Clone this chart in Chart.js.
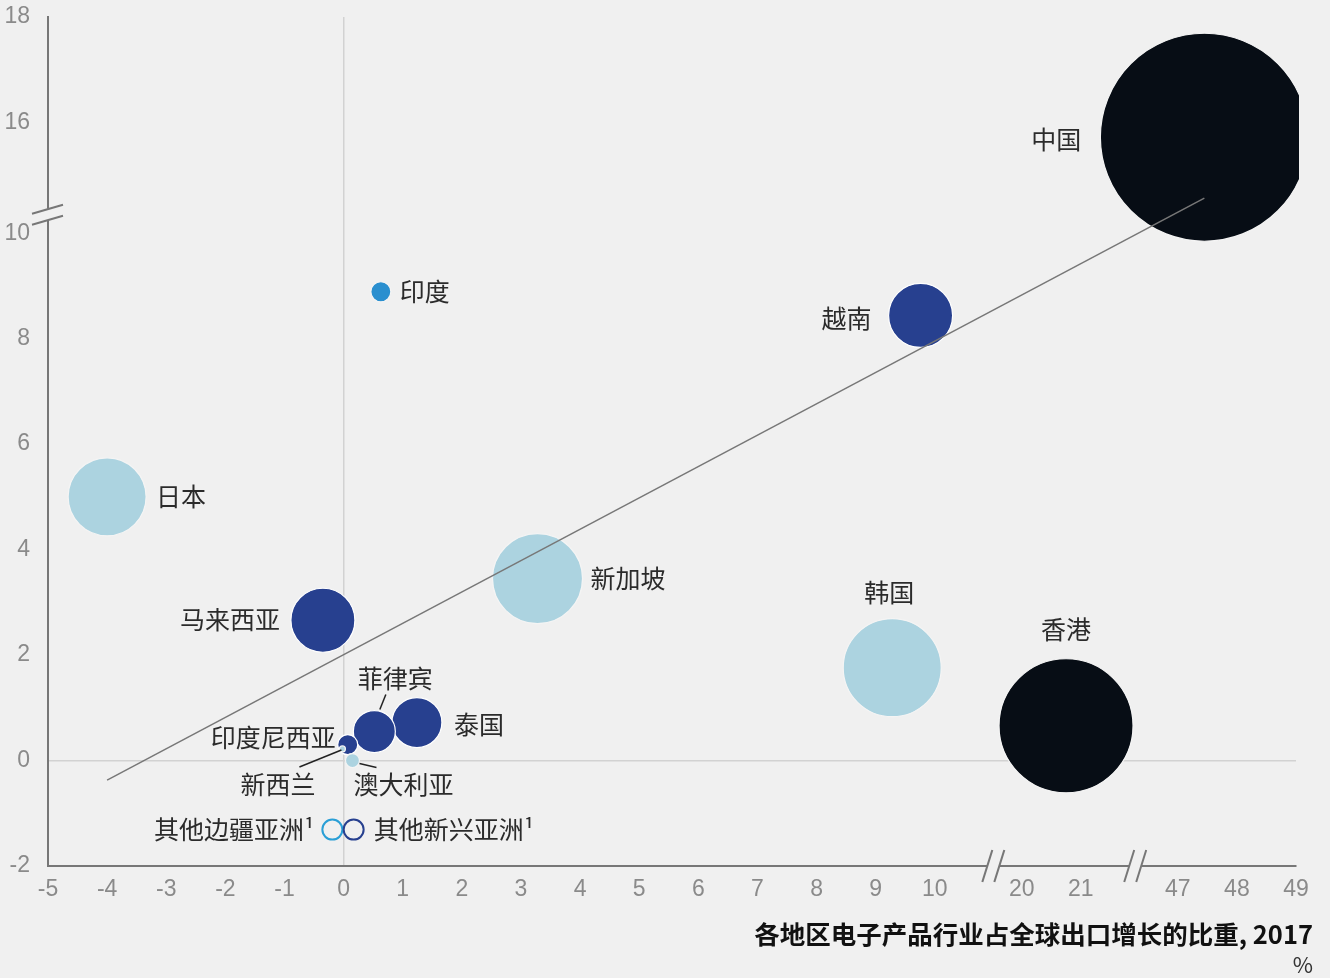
<!DOCTYPE html>
<html lang="zh">
<head>
<meta charset="utf-8">
<title>各地区电子产品行业占全球出口增长的比重</title>
<script src="https://cdn.jsdelivr.net/npm/chart.js@4/dist/chart.umd.min.js"></script>
<style>
  html, body { margin: 0; padding: 0; background: #f0f0f0; }
  canvas { display: block; }
</style>
</head>
<body>
<canvas id="chart" width="1330" height="978"></canvas>
<script>
'use strict';

// Data.
const countries = ['中国', '香港', '韩国', '新加坡', '日本', '越南', '马来西亚', '印度',
  '泰国', '菲律宾', '印度尼西亚', '新西兰', '澳大利亚', '其他边疆亚洲¹', '其他新兴亚洲¹'];
const xValues = [47.45, 20.75, 9.28, 3.28, -4.0, 9.76, -0.35, 0.63, 1.24, 0.52, 0.07, -0.02, 0.15, -0.19, 0.17];
const yValues = [15.2, 0.66, 1.76, 3.45, 5.0, 8.44, 2.66, 8.89, 0.72, 0.55, 0.30, 0.22, 0.0, -1.31, -1.31];
const bubbleSize = [104, 67, 49, 45, 39, 32, 32, 10, 25, 21, 10, 3, 7, 10, 10];
const groups = ['china', 'china', 'advanced', 'advanced', 'advanced', 'emerging', 'emerging', 'frontier',
  'emerging', 'emerging', 'emerging', 'advanced', 'advanced', 'frontierOther', 'emergingOther'];

// Trend line end points.
const trendX = [-4, 47.45];
const trendY = [-0.37, 11.9];

// Tick labels on the broken axes.
const xTickValues = [-5, -4, -3, -2, -1, 0, 1, 2, 3, 4, 5, 6, 7, 8, 9, 10, 20, 21, 47, 48, 49];
const yTickValues = [-2, 0, 2, 4, 6, 8, 10, 16, 18];

// Colours per group.
const fillColours = {
  china: '#070d15',
  advanced: '#acd3e0',
  emerging: '#27408f',
  frontier: '#2a8fcf',
  frontierOther: 'rgba(0,0,0,0)',
  emergingOther: 'rgba(0,0,0,0)',
};
const edgeColours = {
  china: '#f4f4f4',
  advanced: '#f4f4f4',
  emerging: '#ffffff',
  frontier: '#f4f4f4',
  frontierOther: '#2a9fd6',
  emergingOther: '#27408f',
};

// Label placement relative to each bubble: [dx, dy, align].
const labelPlacement = [
  [-148, 2, 'center'], [0, -96, 'center'], [-3, -75, 'center'], [53, 0, 'left'],
  [49, 0, 'left'], [-74, 3, 'center'], [-43, -1, 'right'], [19, 0, 'left'],
  [37, 2, 'left'], [21, -53, 'center'], [-12, -7, 'right'], [-27, 36, 'right'],
  [1, 24, 'left'], [-18, 0, 'right'], [20, 0, 'left'],
];
// Leader lines: [index, fromDx, fromDy, toDx, toDy].
const leaders = [
  [9, 5.5, -22, 11.5, -37],
  [11, -1, 1, -43, 18],
  [12, 7, 3, 24, 7],
];

// Broken axes: map real values onto a continuous axis.
function axisX(v) {
  if (v <= 10) return v;
  if (v <= 21) return 11.47 + (v - 20);
  return 14.11 + (v - 47);
}
function axisY(v) {
  if (v <= 10) return v;
  if (v < 16) return 10 + (v - 10) * 2.1 / 6;
  return 12.1 + (v - 16);
}

const BG = '#f0f0f0';
const AXIS = '#777777';
const TICK_FONT = { family: '"Liberation Sans", Arial, sans-serif', size: 23 };
const CJK = '"Noto Sans CJK SC", "Noto Sans", sans-serif';

const bubbleData = countries.map((c, i) => ({ x: axisX(xValues[i]), y: axisY(yValues[i]), r: bubbleSize[i] }));
const trendData = trendX.map((x, i) => ({ x: axisX(x), y: axisY(trendY[i]) }));

const labelsPlugin = {
  id: 'labels',
  afterDatasetsDraw(chart) {
    const ctx = chart.ctx;
    const xs = chart.scales.x;
    const ys = chart.scales.y;
    ctx.save();
    ctx.strokeStyle = '#222';
    ctx.lineWidth = 1.5;
    leaders.forEach(([i, fx, fy, tx, ty]) => {
      const px = xs.getPixelForValue(bubbleData[i].x);
      const py = ys.getPixelForValue(bubbleData[i].y);
      ctx.beginPath();
      ctx.moveTo(px + fx, py + fy);
      ctx.lineTo(px + tx, py + ty);
      ctx.stroke();
    });
    ctx.fillStyle = '#2b2b2b';
    ctx.font = '25px ' + CJK;
    ctx.textBaseline = 'middle';
    countries.forEach((name, i) => {
      const [dx, dy, align] = labelPlacement[i];
      ctx.textAlign = align;
      ctx.fillText(name, xs.getPixelForValue(bubbleData[i].x) + dx, ys.getPixelForValue(bubbleData[i].y) + dy);
    });
    ctx.restore();
  },
  afterDraw(chart) {
    const ctx = chart.ctx;
    const xs = chart.scales.x;
    const ys = chart.scales.y;
    const area = chart.chartArea;
    ctx.save();

    // y axis break
    const by = ys.getPixelForValue(10.35);
    ctx.fillStyle = BG;
    ctx.fillRect(area.left - 4, by - 6, 8, 12);
    ctx.strokeStyle = AXIS;
    ctx.lineWidth = 2;
    [-5.5, 5.5].forEach(off => {
      ctx.beginPath();
      ctx.moveTo(area.left - 16, by + off + 4.5);
      ctx.lineTo(area.left + 15, by + off - 4.5);
      ctx.stroke();
    });

    // x axis breaks
    [10.99, 13.39].forEach(v => {
      const bx = xs.getPixelForValue(v);
      ctx.fillStyle = BG;
      ctx.fillRect(bx - 6, area.bottom - 4, 12, 8);
      [-6, 6].forEach(off => {
        ctx.beginPath();
        ctx.moveTo(bx + off - 5, area.bottom + 16);
        ctx.lineTo(bx + off + 5, area.bottom - 16);
        ctx.stroke();
      });
    });

    // axis title
    ctx.fillStyle = '#111';
    ctx.textAlign = 'right';
    ctx.textBaseline = 'middle';
    ctx.font = 'bold 25.5px ' + CJK;
    ctx.fillText('各地区电子产品行业占全球出口增长的比重, 2017', 1313, 934);
    ctx.fillStyle = '#333';
    ctx.font = '22px ' + CJK;
    ctx.fillText('%', 1313, 965);
    ctx.restore();
  },
};

new Chart(document.getElementById('chart'), {
  type: 'bubble',
  data: {
    datasets: [
      {
        type: 'line',
        data: trendData,
        borderColor: AXIS,
        borderWidth: 1.5,
        pointRadius: 0,
        order: 0,
      },
      {
        data: bubbleData,
        backgroundColor: groups.map(g => fillColours[g]),
        borderColor: groups.map(g => edgeColours[g]),
        borderWidth: groups.map(g => (g.endsWith('Other') ? 2 : 1.2)),
        clip: { left: 0, top: 0, right: 3, bottom: 0 },
        order: 1,
      },
    ],
  },
  options: {
    responsive: false,
    animation: false,
    devicePixelRatio: 1,
    layout: { autoPadding: false, padding: { left: 0, right: 34, top: 17, bottom: 72 } },
    plugins: {
      legend: { display: false },
      tooltip: { enabled: false },
    },
    scales: {
      x: {
        type: 'linear',
        min: -5,
        max: axisX(49),
        afterBuildTicks: scale => { scale.ticks = xTickValues.map(v => ({ value: axisX(v) })); },
        afterFit: scale => {
          scale.height = 40;
          scale.paddingLeft = 0;
          scale.paddingRight = 0;
        },
        ticks: {
          autoSkip: false,
          maxRotation: 0,
          color: '#8a8a8a',
          font: TICK_FONT,
          padding: 10,
          callback: (value, index) => xTickValues[index],
        },
        grid: {
          drawTicks: false,
          lineWidth: 1.5,
          color: ctx => (ctx.tick && ctx.tick.value === 0 ? '#d2d2d2' : 'rgba(0,0,0,0)'),
        },
        border: { display: true, color: AXIS, width: 2 },
      },
      y: {
        type: 'linear',
        min: -2,
        max: axisY(18),
        afterBuildTicks: scale => { scale.ticks = yTickValues.map(v => ({ value: axisY(v) })); },
        afterFit: scale => {
          scale.width = 48;
          scale.paddingTop = 0;
          scale.paddingBottom = 0;
        },
        ticks: {
          autoSkip: false,
          color: '#8a8a8a',
          font: TICK_FONT,
          padding: 18,
          callback: (value, index) => yTickValues[index],
        },
        grid: {
          drawTicks: false,
          lineWidth: 1.5,
          color: ctx => (ctx.tick && ctx.tick.value === 0 ? '#d2d2d2' : 'rgba(0,0,0,0)'),
        },
        border: { display: true, color: AXIS, width: 2 },
      },
    },
  },
  plugins: [labelsPlugin],
});
</script>
</body>
</html>
